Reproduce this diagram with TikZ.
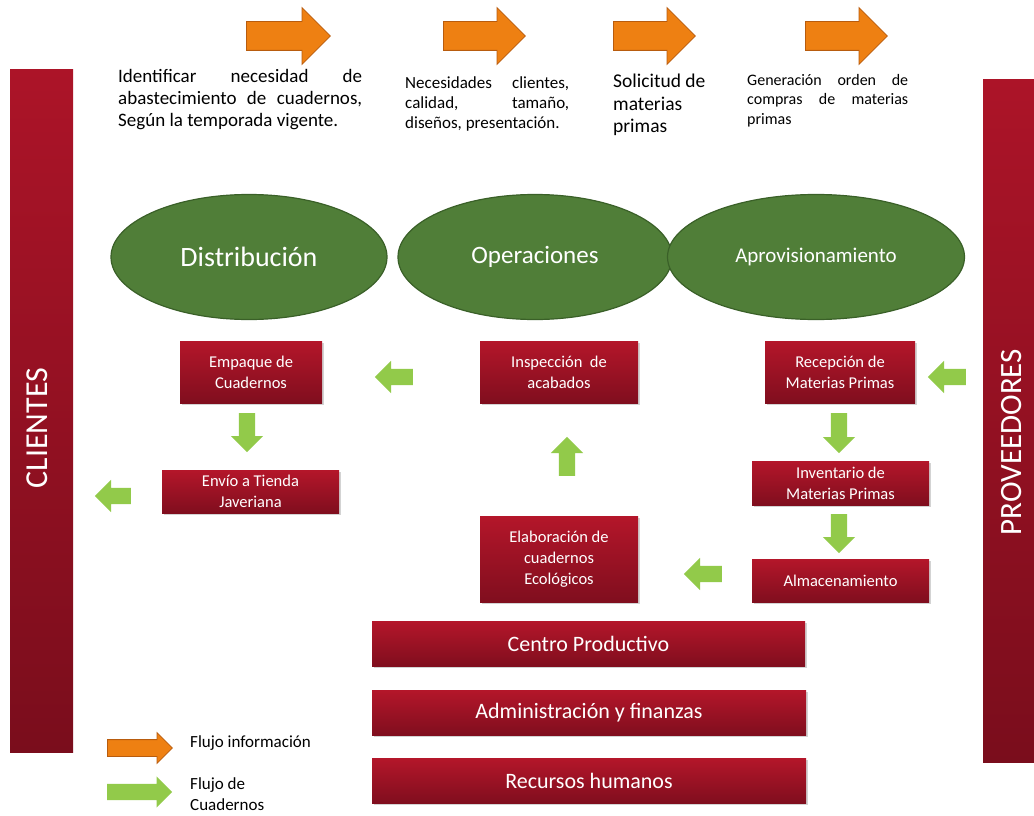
\documentclass[tikz,border=0pt]{standalone}
\usepackage{fontspec}
\setmainfont{Carlito}
\usepackage{tikz}
\usetikzlibrary{shapes,arrows,positioning,shadows}

\definecolor{redtop}{RGB}{180,22,42}
\definecolor{redbot}{RGB}{128,14,30}
\definecolor{bartop}{RGB}{172,20,40}
\definecolor{barbot}{RGB}{122,13,28}
\definecolor{ellfill}{RGB}{80,126,56}
\definecolor{elldraw}{RGB}{58,96,40}
\definecolor{greenf}{RGB}{146,202,74}
\definecolor{orangef}{RGB}{238,128,18}
\definecolor{orangedk}{RGB}{184,92,14}

\begin{document}
\begin{tikzpicture}[
    x=1pt, y=-1pt,
    box/.style={rectangle, top color=redtop, bottom color=redbot, draw=none,
        text=white, align=center, inner sep=2pt,
        drop shadow={shadow xshift=1.5pt, shadow yshift=-2pt, opacity=0.35, fill=gray},
        font=\fontsize{16.5}{21}\selectfont},
    bigbox/.style={box, font=\fontsize{22}{24}\selectfont},
    bar/.style={rectangle, top color=bartop, bottom color=barbot, draw=none},
    area/.style={ellipse, fill=ellfill, draw=elldraw, line width=1.2pt, text=white,
        minimum height=125pt},
    oarr/.style={single arrow, fill=orangef, draw=orangedk, line width=0.8pt,
        inner xsep=0pt, inner ysep=14pt, single arrow head extend=14pt,
        minimum height=84pt, anchor=tail},
    garr/.style={single arrow, fill=greenf, draw=none,
        inner xsep=0pt, inner ysep=8pt, single arrow head extend=8pt,
        minimum height=38pt, anchor=tail},
    info/.style={anchor=north west, inner sep=0pt, align=justify}
]
\useasboundingbox (0,0) rectangle (1034,816);

% side bars
\node[bar, minimum width=63pt, minimum height=682pt] (cli) at (41.5,411) {};
\node[text=white, rotate=90, font=\fontsize{32}{34}\selectfont] (clitxt) at (37,428) {CLIENTES};
\node[bar, minimum width=52pt, minimum height=682pt] (prov) at (1009,421) {};
\node[text=white, rotate=90, font=\fontsize{31}{33}\selectfont] (provtxt) at (1012,442) {PROVEEDORES};

% information flow (top)
\node[oarr] (o1) at (246,36) {};
\node[oarr, minimum height=82pt] (o2) at (443,36) {};
\node[oarr, minimum height=82pt] (o3) at (613,36) {};
\node[oarr, minimum height=82pt] (o4) at (805,36) {};

\node[info, text width=244pt, font=\fontsize{19}{22}\selectfont] (t1) at (118,69)
     {Identificar necesidad de\linebreak abastecimiento de cuadernos,\linebreak Según la temporada vigente.};
\node[info, text width=164pt, font=\fontsize{17}{20}\selectfont] (t2) at (405,76)
     {Necesidades clientes,\linebreak calidad, tamaño,\linebreak diseños, presentación.};
\node[info, align=left, font=\fontsize{19.5}{22.5}\selectfont] (t3) at (613,74)
     {Solicitud de\\ materias\\ primas};
\node[info, text width=161pt, font=\fontsize{16}{19.5}\selectfont] (t4) at (747,74)
     {Generación orden de\linebreak compras de materias\linebreak primas};

% areas
\node[area, minimum width=276pt, font=\fontsize{28}{30}\selectfont] (dist) at (249,257) {Distribución};
\node[area, minimum width=274pt, font=\fontsize{25}{27}\selectfont] (oper) at (535,257) {Operaciones};
\node[area, minimum width=297pt, font=\fontsize{21}{23}\selectfont] (aprov) at (816,257) {Aprovisionamiento};

% process boxes
\node[box, minimum width=142pt, minimum height=62pt] (emp)   at (251,372)   {Empaque de\\Cuadernos};
\node[box, minimum width=158pt, minimum height=62pt] (insp)  at (559,372)   {Inspección\ \ de\\acabados};
\node[box, minimum width=150pt, minimum height=62pt] (recep) at (840,372)   {Recepción de\\Materias Primas};
\node[box, minimum width=177pt, minimum height=43pt] (envio) at (250.5,491.5) {Envío a Tienda\\Javeriana};
\node[box, minimum width=177pt, minimum height=44pt] (inv)   at (840.5,483) {Inventario de\\Materias Primas};
\node[box, minimum width=158pt, minimum height=86pt] (elab)  at (559,559)   {Elaboración de\\cuadernos\\Ecológicos};
\node[box, minimum width=177pt, minimum height=43pt] (alm)   at (840.5,580.5) {Almacenamiento};

% support areas
\node[bigbox, minimum width=433pt, minimum height=45pt] (centro) at (588.5,643.5) {Centro Productivo};
\node[bigbox, minimum width=434pt, minimum height=45pt] (admin)  at (589,712.5)   {Administración y finanzas};
\node[bigbox, minimum width=434pt, minimum height=45pt] (rrhh)   at (589,780.5)   {Recursos humanos};

% notebook flow
\node[garr, rotate=180] (g1) at (413,377) {};
\node[garr, rotate=-90, minimum height=39pt] (g2) at (247,413) {};
\node[garr, rotate=180, minimum height=36pt] (g3) at (131,496) {};
\node[garr, rotate=90, minimum height=39pt] (g4) at (567,476) {};
\node[garr, rotate=180] (g5) at (966,377) {};
\node[garr, rotate=-90, minimum height=40pt] (g6) at (839,413) {};
\node[garr, rotate=-90, minimum height=39pt] (g7) at (839,514) {};
\node[garr, rotate=180] (g8) at (722,574) {};

% legend
\node[oarr, minimum height=65pt, inner ysep=8pt, single arrow head extend=7pt] (lo) at (107,748) {};
\node[garr, minimum height=65pt, single arrow head extend=7.5pt] (lg) at (107,792) {};
\node[anchor=west, inner sep=0pt, font=\fontsize{17}{21}\selectfont] (lotxt) at (190,743) {Flujo información};
\node[anchor=north west, inner sep=0pt, align=left, font=\fontsize{17}{21}\selectfont] (lgtxt) at (190,777) {Flujo de\\Cuadernos};
\end{tikzpicture}
\end{document}
